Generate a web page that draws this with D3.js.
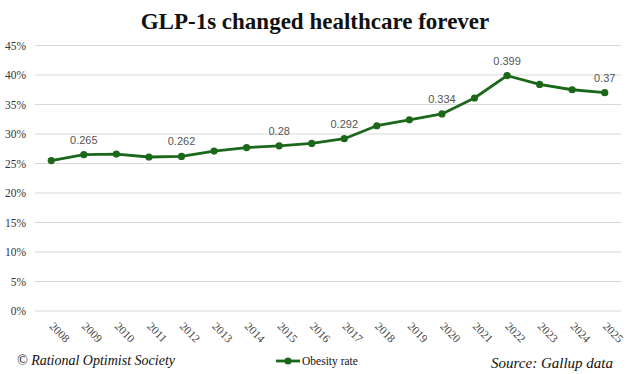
<!DOCTYPE html>
<html><head><meta charset="utf-8">
<script src="https://cdn.jsdelivr.net/npm/d3@7"></script>
<style>body{margin:0;background:#fff}svg{display:block}</style>
</head><body>
<svg id="c" width="630" height="374"></svg>
<script>
const years = ["2008","2009","2010","2011","2012","2013","2014","2015","2016","2017","2018","2019","2020","2021","2022","2023","2024","2025"];
const obesity = [0.255,0.265,0.266,0.261,0.262,0.271,0.277,0.28,0.284,0.292,0.314,0.324,0.334,0.361,0.399,0.384,0.375,0.37];
const labeled = ["2009","2012","2015","2017","2020","2022","2025"];
const yTicks = [0,0.05,0.1,0.15,0.2,0.25,0.3,0.35,0.4,0.45];
const green = "#1b681b";

const svg = d3.select("#c");
const L = 35, R = 621, T = 45.5, B = 311;
const x = d3.scalePoint().domain(years).range([L, R]).padding(0.5);
const y = d3.scaleLinear().domain([0, 0.45]).range([B, T]);

svg.append("text").attr("x", 315).attr("y", 29).attr("text-anchor", "middle")
  .attr("font-family", "'Liberation Serif', serif").attr("font-weight", "bold")
  .attr("font-size", 23).attr("fill", "#111").text("GLP-1s changed healthcare forever");

// grid
svg.append("g").selectAll("line").data(yTicks).join("line")
  .attr("x1", L).attr("x2", R).attr("y1", d => y(d)).attr("y2", d => y(d))
  .attr("stroke", "#d9d9d9").attr("stroke-width", 1);

// y axis
const yAxis = d3.axisLeft(y).tickValues(yTicks).tickFormat(d3.format(".0%")).tickSize(0).tickPadding(0);
const gy = svg.append("g").attr("transform", `translate(26,0)`).call(yAxis);
gy.select(".domain").remove();
gy.selectAll("text").attr("font-family", "'Liberation Serif', serif").attr("font-size", 11.5).attr("fill", "#333");

// x axis
const xAxis = d3.axisBottom(x).tickSize(0).tickPadding(0);
const gx = svg.append("g").attr("transform", `translate(0,${B})`).call(xAxis);
gx.select(".domain").remove();
gx.selectAll("text").attr("font-family", "'Liberation Serif', serif").attr("font-size", 11.5).attr("fill", "#444")
  .attr("text-anchor", "start").attr("dy", 0).attr("y", 0)
  .attr("transform", "translate(-3,16) rotate(45)");

// line
const line = d3.line().x((d, i) => x(years[i])).y(d => y(d));
svg.append("path").datum(obesity).attr("d", line).attr("fill", "none")
  .attr("stroke", green).attr("stroke-width", 2.8).attr("stroke-linejoin", "round");
svg.append("g").selectAll("circle").data(obesity).join("circle")
  .attr("cx", (d, i) => x(years[i])).attr("cy", d => y(d)).attr("r", 3.6).attr("fill", green);

// data labels
svg.append("g").selectAll("text").data(years.map((yr, i) => ({yr, v: obesity[i]})).filter(d => labeled.includes(d.yr)))
  .join("text").attr("x", d => x(d.yr)).attr("y", d => y(d.v) - 11).attr("text-anchor", "middle")
  .attr("font-family", "'Liberation Sans', Arial, sans-serif").attr("font-size", 11).attr("fill", "#555")
  .text(d => String(d.v));

// footer
svg.append("text").attr("x", 17).attr("y", 365).attr("font-family", "'Liberation Serif', serif")
  .attr("font-style", "italic").attr("font-size", 14).attr("fill", "#111").text("© Rational Optimist Society");
svg.append("text").attr("x", 613).attr("y", 368).attr("text-anchor", "end").attr("font-family", "'Liberation Serif', serif")
  .attr("font-style", "italic").attr("font-size", 15).attr("fill", "#111").text("Source: Gallup data");

// legend
svg.append("line").attr("x1", 276).attr("x2", 300).attr("y1", 361).attr("y2", 361).attr("stroke", green).attr("stroke-width", 2.8);
svg.append("circle").attr("cx", 288).attr("cy", 361).attr("r", 3.6).attr("fill", green);
svg.append("text").attr("x", 302).attr("y", 365).attr("font-family", "'Liberation Serif', serif")
  .attr("font-size", 11.5).attr("fill", "#111").text("Obesity rate");
</script>
</body></html>
